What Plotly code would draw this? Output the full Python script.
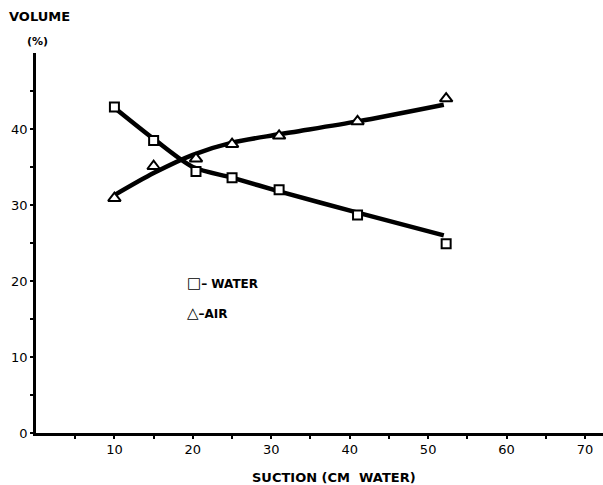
import plotly.graph_objects as go

# Measured points
suction = [10, 15, 20.4, 25, 31, 41, 52.3]
water_pts = [42.9, 38.5, 34.4, 33.6, 32.0, 28.7, 24.9]
air_pts = [30.9, 35.1, 36.1, 38.0, 39.1, 41.0, 44.0]

# Fitted curves
curve_x = [10, 15, 20, 25, 31, 41, 52]
water_curve = [42.8, 38.7, 35.0, 33.6, 31.8, 29.0, 26.0]
air_curve = [31.3, 34.2, 36.6, 38.2, 39.3, 41.0, 43.2]

x_tickvals = list(range(5, 75, 5))
x_ticktext = [str(v) if v % 10 == 0 else "" for v in x_tickvals]
y_tickvals = list(range(0, 50, 5))
y_ticktext = [str(v) if v % 10 == 0 else "" for v in y_tickvals]

FONT = "DejaVu Sans"
fig = go.Figure()

fig.add_trace(go.Scatter(x=curve_x, y=air_curve, mode="lines",
                         line=dict(color="black", width=4.5, shape="spline", smoothing=0.8),
                         showlegend=False, hoverinfo="skip"))
fig.add_trace(go.Scatter(x=curve_x, y=water_curve, mode="lines",
                         line=dict(color="black", width=4.5, shape="spline", smoothing=0.8),
                         showlegend=False, hoverinfo="skip"))
fig.add_trace(go.Scatter(x=suction, y=water_pts, mode="markers", name="WATER",
                         marker=dict(symbol="square", size=9, color="white",
                                     line=dict(color="black", width=2)),
                         showlegend=False))
fig.add_trace(go.Scatter(x=suction, y=air_pts, mode="markers", name="AIR",
                         marker=dict(symbol="triangle-up", size=11, color="white",
                                     line=dict(color="black", width=2)),
                         showlegend=False))

axis_common = dict(showline=True, linecolor="black", linewidth=2.5, ticks="outside",
                   ticklen=3, tickwidth=2, tickcolor="black", showgrid=False,
                   zeroline=False, tickfont=dict(family=FONT, size=13, color="black"))

fig.update_xaxes(range=[0, 72.3], tickmode="array", tickvals=x_tickvals,
                 ticktext=x_ticktext, **axis_common)
fig.update_yaxes(range=[0, 50], tickmode="array", tickvals=y_tickvals,
                 ticktext=y_ticktext, **axis_common)

def ann(text, x, y, size=13, xanchor="left"):
    fig.add_annotation(text="<b>" + text + "</b>", xref="paper", yref="paper", x=x, y=y,
                       xanchor=xanchor, yanchor="middle", showarrow=False,
                       font=dict(family=FONT, size=size, color="black"))

ann("VOLUME", -0.052, 1.097, 13)
ann("(%)", 0.0035, 1.029, 11, xanchor="center")
ann("SUCTION (CM&nbsp; WATER)", 0.526, -0.116, 13, xanchor="center")
ann("<span style='font-size:15px'>□</span>– WATER", 0.262, 0.395, 12)
ann("<span style='font-size:15px'>△</span>–AIR", 0.262, 0.316, 12)

fig.update_layout(width=603, height=485, margin=dict(l=35.5, r=0, t=53, b=52),
                  paper_bgcolor="white", plot_bgcolor="white", showlegend=False)

fig.write_html("out.html", config={"displayModeBar": False},
               post_script="document.body.style.margin='0';document.body.style.overflow='hidden';")
